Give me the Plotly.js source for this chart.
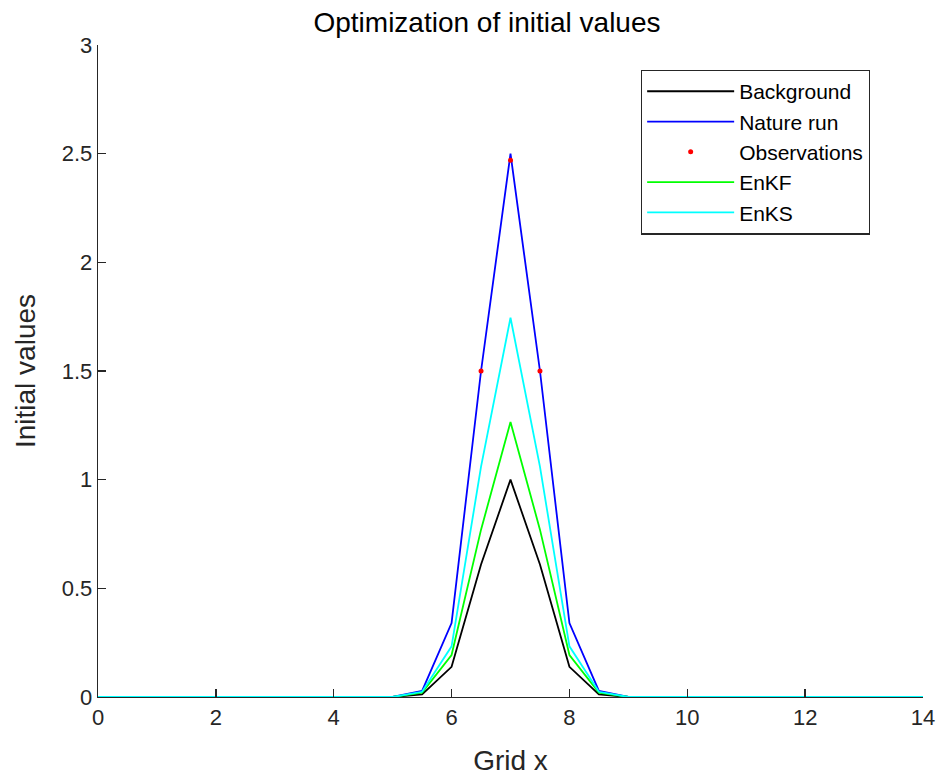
<!DOCTYPE html>
<html>
<head>
<meta charset="utf-8">
<script src="https://cdn.plot.ly/plotly-3.0.1.min.js"></script>
<style>
  html, body { margin: 0; padding: 0; background: #fff; }
  #chart { width: 940px; height: 776px; }
</style>
</head>
<body>
<div id="chart"></div>
<script>
// Model grid (spacing 0.5)
const gridX = [0, 0.5, 1, 1.5, 2, 2.5, 3, 3.5, 4, 4.5, 5, 5.5, 6, 6.5, 7,
               7.5, 8, 8.5, 9, 9.5, 10, 10.5, 11, 11.5, 12, 12.5, 13, 13.5, 14];

// Initial states on the grid
const background = [0, 0, 0, 0, 0, 0, 0, 0, 0, 0, 0, 0.012, 0.139, 0.61, 1.0,
                    0.61, 0.139, 0.012, 0, 0, 0, 0, 0, 0, 0, 0, 0, 0, 0];
const natureRun  = [0, 0, 0, 0, 0, 0, 0, 0, 0, 0, 0, 0.028, 0.34, 1.5, 2.5,
                    1.5, 0.34, 0.028, 0, 0, 0, 0, 0, 0, 0, 0, 0, 0, 0];
const enkf       = [0, 0, 0, 0, 0, 0, 0, 0, 0, 0, 0, 0.02, 0.193, 0.77, 1.265,
                    0.77, 0.193, 0.02, 0, 0, 0, 0, 0, 0, 0, 0, 0, 0, 0];
const enks       = [0, 0, 0, 0, 0, 0, 0, 0, 0, 0, 0, 0.024, 0.233, 1.06, 1.745,
                    1.06, 0.233, 0.024, 0, 0, 0, 0, 0, 0, 0, 0, 0, 0, 0];

// Observations
const obsX = [6.5, 7, 7.5];
const obsY = [1.5, 2.47, 1.5];

const xTicks = [0, 2, 4, 6, 8, 10, 12, 14];
const yTicks = [0, 0.5, 1, 1.5, 2, 2.5, 3];

const FONT = 'Liberation Sans, Arial, sans-serif';
const AXIS = '#262626';

const lineTrace = (name, y, color) => ({
  type: 'scatter', mode: 'lines', name: name,
  x: gridX, y: y,
  line: { color: color, width: 1.8, shape: 'linear' }
});

const data = [
  lineTrace('Background', background, '#000000'),
  lineTrace('Nature run', natureRun, '#0000ff'),
  {
    type: 'scatter', mode: 'markers', name: 'Observations',
    x: obsX, y: obsY,
    marker: { color: '#ff0000', size: 5, symbol: 'circle' }
  },
  lineTrace('EnKF', enkf, '#00ff00'),
  lineTrace('EnKS', enks, '#00ffff')
];

const layout = {
  width: 940, height: 776,
  paper_bgcolor: '#ffffff', plot_bgcolor: '#ffffff',
  margin: { l: 98, r: 17, t: 45, b: 79 },
  font: { family: FONT, color: AXIS, size: 22 },
  title: {
    text: 'Optimization of initial values',
    font: { family: FONT, size: 28, color: '#000000' },
    x: 0.4715, xref: 'paper', xanchor: 'center',
    y: 1, yref: 'container', yanchor: 'top', pad: { t: 12 }
  },
  xaxis: {
    range: [0, 14], tickvals: xTicks, ticktext: xTicks.map(String),
    showgrid: false, zeroline: false,
    showline: true, linecolor: AXIS, linewidth: 1.3,
    ticks: 'inside', ticklen: 8, tickwidth: 1.3, tickcolor: AXIS,
    tickfont: { family: FONT, size: 22, color: AXIS },
    title: { text: 'Grid x', font: { family: FONT, size: 28, color: AXIS }, standoff: 21 }
  },
  yaxis: {
    range: [0, 3], tickvals: yTicks, ticktext: yTicks.map(String),
    showgrid: false, zeroline: false,
    showline: true, linecolor: AXIS, linewidth: 1.3,
    ticks: 'inside', ticklen: 8, tickwidth: 1.3, tickcolor: AXIS,
    tickfont: { family: FONT, size: 22, color: AXIS },
    title: { text: 'Initial values', font: { family: FONT, size: 28, color: AXIS }, standoff: 18 }
  },
  legend: {
    x: 0.658, y: 0.962, xanchor: 'left', yanchor: 'top',
    bgcolor: '#ffffff', bordercolor: AXIS, borderwidth: 1.3,
    font: { family: FONT, size: 21, color: '#000000' },
    itemwidth: 87, tracegroupgap: 0,
    entrywidth: 160, entrywidthmode: 'pixels'
  },
  showlegend: true
};

Plotly.newPlot('chart', data, layout, { displayModeBar: false, staticPlot: true });
</script>
</body>
</html>
